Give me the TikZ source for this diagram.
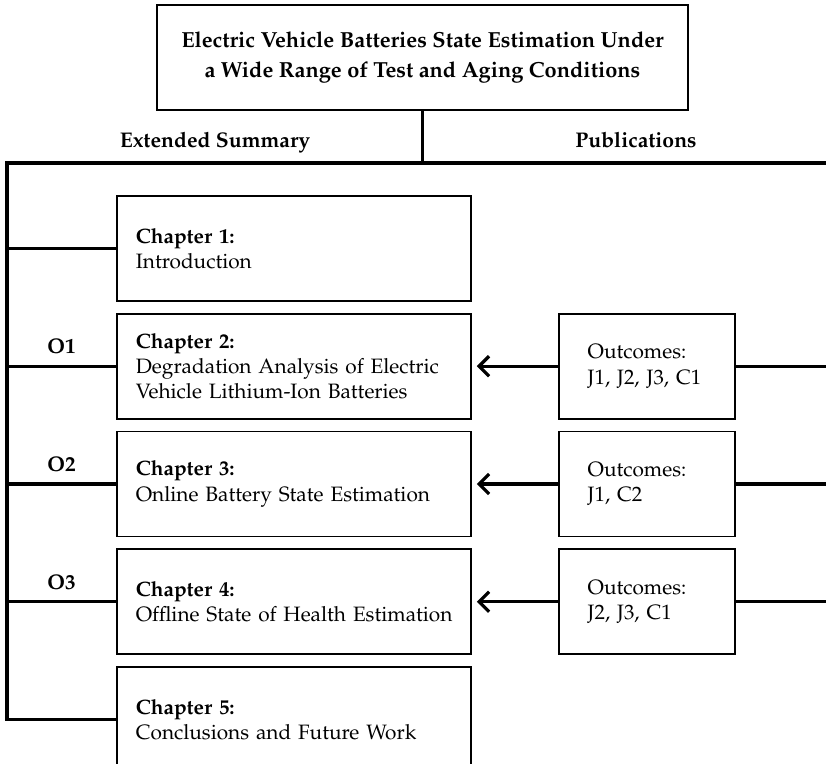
\documentclass[tikz,border=0pt]{standalone}
\usepackage[T1]{fontenc}
\usepackage{mathpazo}
\usetikzlibrary{arrows.meta,positioning}

\begin{document}
\begin{tikzpicture}[
 node distance=5.5pt and 43pt, >={Straight Barb[length=5pt,width=10pt]},
 font=\fontsize{10.4}{12.6}\selectfont,
 box/.style={draw, line width=0.9pt, align=left, minimum height=52.5pt, inner ysep=0pt, fill=white},
 chap/.style={box, text width=158pt, inner xsep=9.5pt, minimum width=177pt},
 outc/.style={box, text width=59pt, inner xsep=14.5pt, minimum width=88pt},
 link/.style={draw, line width=1.6pt},
 lbl/.style={font=\fontsize{10.6}{12.7}\selectfont\bfseries}]
\useasboundingbox (0,0) rectangle (413pt,-382pt);
\coordinate (lcorner) at (3.5pt,-81.5pt);
\coordinate (redge) at (413pt,-81.5pt);
\node[box, align=center, font=\fontsize{10.9}{14.8}\selectfont\bfseries, minimum width=265.5pt] (top) at (211.25pt,-28.75pt)
 {Electric Vehicle Batteries State Estimation Under\\ a Wide Range of Test and Aging Conditions};
\node[lbl, anchor=base] (es) at (107.5pt,-74pt) {Extended Summary};
\node[lbl, anchor=base] (pub) at (318pt,-74pt) {Publications};
% chapters
\node[chap, anchor=north west] (ch1) at (58pt,-97.5pt) {\textbf{Chapter 1:}\\ Introduction};
\node[chap, below=of ch1] (ch2) {\textbf{Chapter 2:}\\ Degradation Analysis of Electric\\ Vehicle Lithium-Ion Batteries};
\node[chap, below=of ch2] (ch3) {\textbf{Chapter 3:}\\ Online Battery State Estimation};
\node[chap, below=of ch3] (ch4) {\textbf{Chapter 4:}\\ \mbox{Offline State of Health Estimation}};
\node[chap, below=of ch4] (ch5) {\textbf{Chapter 5:}\\ Conclusions and Future Work};
% outcomes
\node[outc, right=of ch2] (out1) {Outcomes:\\ J1, J2, J3, C1};
\node[outc, right=of ch3] (out2) {Outcomes:\\ J1, C2};
\node[outc, right=of ch4] (out3) {Outcomes:\\ J2, J3, C1};
% bus
\draw[link] (top.south) -- (top.south |- lcorner);
\draw[link] (ch5.west) -| (lcorner) -- (redge);
\draw[link] (ch1.west) -- (ch1.west -| lcorner);
\draw[link] (ch2.west) -- node[lbl, above=2pt]{O1} (ch2.west -| lcorner);
\draw[link] (ch3.west) -- node[lbl, above=2pt]{O2} (ch3.west -| lcorner);
\draw[link] (ch4.west) -- node[lbl, above=2pt]{O3} (ch4.west -| lcorner);
\foreach \i/\c in {1/2,2/3,3/4}{
 \draw[link, ->, shorten >=2.5pt] (out\i.west) -- (ch\c.east);
 \draw[link] (out\i.east) -- (out\i.east -| redge);
}
\end{tikzpicture}
\end{document}
